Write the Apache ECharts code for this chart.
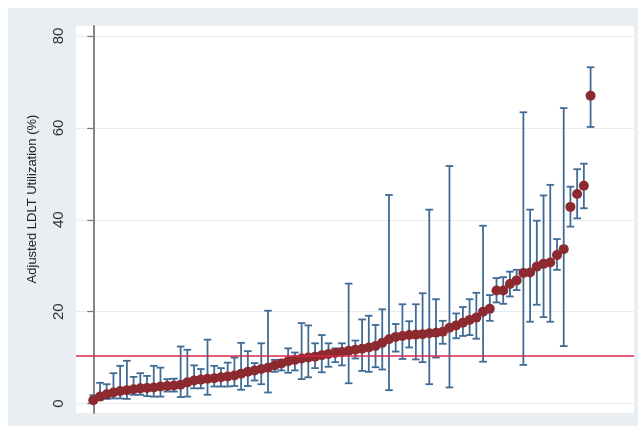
<!DOCTYPE html>
<html>
<head>
<meta charset="utf-8">
<script src="https://cdn.jsdelivr.net/npm/echarts@6/dist/echarts.min.js"></script>
<style>
  html, body { margin: 0; padding: 0; background: #fff; }
  #chart {
    width: 638px; height: 426px;
    background: linear-gradient(#e8eef2, #e8eef2) 8px 8px / 630px 418px no-repeat, #fff;
  }
</style>
</head>
<body>
<div id="chart"></div>
<script>
// Adjusted LDLT utilization by center, ranked, with 95% confidence intervals
const estimate = [
  0.7, 1.5, 2.0, 2.4, 2.7, 2.9, 3.1, 3.3, 3.4, 3.5,
  3.7, 3.8, 3.9, 4.1, 4.6, 5.0, 5.2, 5.4, 5.5, 5.7,
  5.9, 6.1, 6.5, 6.9, 7.2, 7.5, 7.8, 8.3, 8.7, 9.2,
  9.5, 9.8, 10.0, 10.2, 10.5, 10.8, 11.0, 11.2, 11.5, 11.7,
  11.9, 12.2, 12.5, 13.2, 14.0, 14.5, 14.7, 14.9, 15.0, 15.1,
  15.3, 15.4, 15.6, 16.5, 17.0, 17.6, 18.2, 18.7, 20.0, 20.6,
  24.6, 24.6, 26.0, 26.8, 28.4, 28.5, 29.8, 30.4, 30.7, 32.3,
  33.6, 42.8, 45.6, 47.4, 67.0
];
const lower = [
  0.1, 0.9, 1.0, 1.1, 1.1, 1.0, 1.9, 1.9, 1.6, 1.5,
  1.5, 2.6, 2.6, 1.4, 1.5, 3.3, 3.3, 1.9, 3.7, 3.7,
  3.7, 3.8, 3.0, 3.8, 5.0, 4.2, 2.4, 6.9, 7.2, 6.7,
  7.2, 5.3, 5.7, 7.7, 6.8, 8.0, 9.0, 8.3, 4.4, 9.8,
  7.1, 6.9, 7.9, 7.4, 2.9, 11.3, 9.7, 12.2, 9.6, 9.0,
  4.2, 10.0, 13.0, 3.5, 14.2, 14.7, 14.9, 14.1, 9.1, 18.0,
  22.0, 21.7, 23.3, 24.7, 8.4, 17.8, 21.5, 18.8, 17.8, 29.1,
  12.5, 38.5, 40.3, 42.5, 60.2
];
const upper = [
  1.8, 4.5, 4.2, 6.6, 8.2, 9.3, 5.8, 6.6, 6.0, 8.2,
  7.8, 5.3, 5.4, 12.4, 11.7, 8.3, 7.5, 13.9, 8.2, 7.7,
  8.9, 10.0, 13.2, 11.4, 8.8, 13.1, 20.2, 9.5, 9.5, 12.0,
  11.1, 17.5, 17.0, 13.1, 14.9, 13.1, 12.0, 13.1, 26.1, 13.7,
  18.3, 19.1, 17.1, 20.5, 45.4, 17.3, 21.6, 17.9, 21.6, 24.0,
  42.2, 22.7, 18.0, 51.7, 19.6, 21.0, 22.7, 24.1, 38.7, 23.6,
  27.3, 27.5, 28.7, 29.1, 63.4, 42.2, 39.8, 45.3, 47.6, 35.8,
  64.3, 47.2, 51.0, 52.2, 73.2
];
const yTicks = [0, 20, 40, 60, 80];
const nationalRate = 10.3;

const points = estimate.map((v, i) => [i, v]);
const intervals = estimate.map((v, i) => [i, lower[i], upper[i]]);

const chart = echarts.init(document.getElementById('chart'), null, { renderer: 'canvas' });

const xRange = { min: -2.57, max: 80.46 };
const fontFamily = 'Liberation Sans, Arial, sans-serif';

chart.setOption({
  animation: false,
  grid: [
    // white plot region with the long axis line
    { left: 76, right: 4, top: 26, bottom: 13, show: true, backgroundColor: '#ffffff', borderWidth: 0 },
    // data region: 0 to 80
    { left: 76, right: 4, top: 36, bottom: 22.5 }
  ],
  xAxis: [
    { gridIndex: 0, type: 'value', min: xRange.min, max: xRange.max, show: false },
    { gridIndex: 1, type: 'value', min: xRange.min, max: xRange.max, show: false }
  ],
  yAxis: [
    {
      gridIndex: 0, type: 'value', min: 0, max: 1,
      axisLine: { show: true, lineStyle: { color: '#77797c', width: 1.8 } },
      axisTick: { show: false }, axisLabel: { show: false }, splitLine: { show: false }
    },
    {
      gridIndex: 1, type: 'value', min: yTicks[0], max: yTicks[yTicks.length - 1], interval: 20,
      axisLine: { show: false },
      axisTick: { show: true, length: 6, lineStyle: { color: '#77797c', width: 1.3 } },
      axisLabel: {
        rotate: 90, margin: 10, color: '#333333', fontSize: 15, fontFamily: fontFamily
      },
      splitLine: { show: true, lineStyle: { color: '#e6ecf0', width: 1.2 } }
    }
  ],
  graphic: [
    {
      type: 'text', x: 32, y: 199, rotation: Math.PI / 2,
      style: {
        text: 'Adjusted LDLT Utilization (%)',
        fill: '#222', fontSize: 13, fontFamily: fontFamily,
        align: 'center', verticalAlign: 'middle'
      }
    }
  ],
  series: [
    {
      type: 'custom',
      xAxisIndex: 1, yAxisIndex: 1,
      data: intervals,
      z: 2,
      renderItem: function (params, api) {
        const x = api.value(0);
        const lo = api.coord([x, api.value(1)]);
        const hi = api.coord([x, api.value(2)]);
        const cap = 3.8;
        const style = { stroke: '#3f6b94', lineWidth: 1.8 };
        return {
          type: 'group',
          children: [
            { type: 'line', shape: { x1: lo[0], y1: lo[1], x2: hi[0], y2: hi[1] }, style: style },
            { type: 'line', shape: { x1: hi[0] - cap, y1: hi[1], x2: hi[0] + cap, y2: hi[1] }, style: style },
            { type: 'line', shape: { x1: lo[0] - cap, y1: lo[1], x2: lo[0] + cap, y2: lo[1] }, style: style }
          ]
        };
      }
    },
    {
      type: 'scatter',
      xAxisIndex: 1, yAxisIndex: 1,
      data: points,
      symbol: 'circle',
      symbolSize: 10,
      z: 3,
      itemStyle: { color: '#8c2a30', opacity: 1 },
      markLine: {
        silent: true,
        symbol: 'none',
        label: { show: false },
        lineStyle: { color: '#d8294f', width: 1.5, type: 'solid' },
        data: [{ yAxis: nationalRate }]
      }
    }
  ]
});
</script>
</body>
</html>
